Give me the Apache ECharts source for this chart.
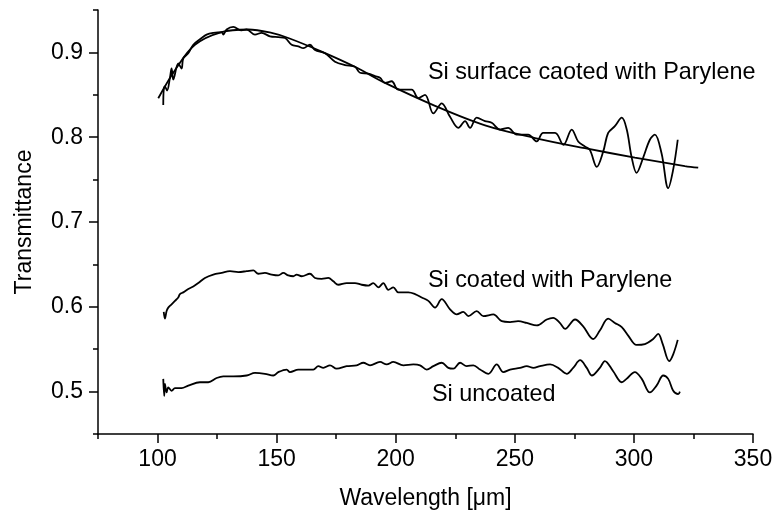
<!DOCTYPE html>
<html>
<head>
<meta charset="utf-8">
<script src="https://cdn.jsdelivr.net/npm/echarts@6/dist/echarts.min.js"></script>
<style>
  html, body { margin: 0; padding: 0; background: #fff; }
  #container { width: 779px; height: 515px; }
</style>
</head>
<body>
<div id="container"></div>
<script>
var dom = document.getElementById("container");
var myChart = echarts.init(dom);

// tick values
var xMajorTicks = [100, 150, 200, 250, 300, 350];
var xMinorTicks = [75, 125, 175, 225, 275, 325];
var yMajorTicks = [0.5, 0.6, 0.7, 0.8, 0.9];
var yMinorTicks = [0.45, 0.55, 0.65, 0.75, 0.85, 0.95];

// smooth fit of the parylene surface coated sample
var surfaceFit = [[100.3,0.846],[107.3,0.879],[115.7,0.909],[126.9,0.924],[138.1,0.927],[147.9,0.923],
  [154.9,0.917],[168.9,0.901],[182.9,0.883],[195.5,0.864],[216.5,0.837],[237.5,0.814],[258.5,0.799],
  [279.4,0.787],[300.4,0.776],[321.4,0.766],[327,0.764]];

// measured: Si surface coated with parylene
var surfaceCoated = [[102.4,0.838],[102.6,0.856],[103.1,0.860],[104.0,0.855],[105.2,0.870],[105.9,0.881],
  [106.6,0.868],[108.7,0.887],[110.1,0.881],[110.8,0.893],[112.9,0.899],[115.0,0.909],[118.5,0.917],
  [120.6,0.921],[123.4,0.923],[126.9,0.924],[127.6,0.921],[129.0,0.927],[131.8,0.930],[135.3,0.926],
  [137.4,0.927],[140.9,0.921],[143.7,0.923],[147.2,0.919],[150.7,0.918],[153.5,0.917],[156.3,0.909],
  [159.1,0.907],[161.2,0.905],[164.0,0.909],[166.1,0.903],[170.3,0.899],[174.5,0.889],[178.7,0.885],
  [182.9,0.883],[185.0,0.876],[188.5,0.875],[191.3,0.872],[193.4,0.870],[195.5,0.864],[198.3,0.866],
  [201.1,0.856],[206.7,0.856],[209.5,0.846],[212.3,0.850],[215.8,0.828],[219.3,0.840],[222.8,0.824],
  [226.3,0.811],[229.1,0.819],[231.2,0.811],[234.0,0.823],[237.5,0.819],[240.3,0.817],[243.8,0.809],
  [247.2,0.811],[250.8,0.803],[255.6,0.803],[259.2,0.795],[261.9,0.805],[266.9,0.805],[270.4,0.791],
  [273.9,0.809],[276.6,0.795],[279.4,0.789],[281.5,0.785],[284.4,0.765],[287.1,0.783],[289.2,0.805],
  [292.0,0.813],[294.9,0.823],[297.0,0.809],[299.0,0.777],[301.1,0.758],[303.9,0.776],[306.7,0.797],
  [308.8,0.803],[311.6,0.781],[314.4,0.740],[316.5,0.762],[318.4,0.797]];

// measured: Si coated with parylene
var siCoated = [[102.6,0.594],[103.1,0.586],[103.8,0.595],[104.5,0.599],[105.9,0.603],[107.3,0.607],
  [108.7,0.611],[109.4,0.615],[110.8,0.617],[112.9,0.621],[115.0,0.624],[117.1,0.628],[119.9,0.634],
  [123.4,0.638],[126.9,0.640],[130.4,0.642],[133.9,0.641],[137.4,0.642],[140.2,0.643],[142.3,0.639],
  [145.1,0.640],[147.9,0.638],[150.7,0.637],[152.8,0.640],[154.9,0.637],[157.0,0.636],[158.4,0.638],
  [160.5,0.636],[164.0,0.639],[166.1,0.634],[168.9,0.633],[171.7,0.634],[173.8,0.630],[175.9,0.626],
  [179.4,0.628],[182.9,0.628],[185.7,0.626],[188.5,0.625],[190.6,0.628],[192.7,0.623],[194.8,0.628],
  [196.9,0.620],[199.0,0.623],[201.1,0.617],[205.3,0.617],[208.1,0.615],[210.9,0.611],[213.7,0.607],
  [216.5,0.599],[219.3,0.609],[222.8,0.597],[225.6,0.591],[228.4,0.594],[230.5,0.589],[234.0,0.595],
  [236.8,0.589],[241.0,0.591],[244.5,0.583],[248.0,0.582],[251.4,0.583],[255.0,0.581],[259.2,0.578],
  [263.4,0.585],[266.1,0.587],[268.9,0.581],[271.1,0.574],[275.3,0.585],[278.7,0.577],[282.9,0.562],
  [285.7,0.572],[289.2,0.586],[292.0,0.581],[294.9,0.576],[297.6,0.566],[301.1,0.555],[304.6,0.556],
  [308.1,0.562],[310.2,0.568],[312.1,0.556],[314.8,0.536],[316.5,0.544],[318.4,0.561]];

// measured: Si uncoated
var siUncoated = [[102.4,0.515],[102.8,0.495],[103.1,0.509],[103.8,0.499],[104.5,0.505],[105.9,0.501],
  [107.3,0.504],[110.1,0.504],[112.9,0.507],[117.8,0.511],[121.3,0.511],[124.8,0.516],[127.6,0.518],
  [131.8,0.518],[137.4,0.519],[140.9,0.522],[145.1,0.521],[148.6,0.519],[150.7,0.523],[154.2,0.526],
  [155.6,0.523],[159.1,0.526],[162.6,0.526],[165.4,0.526],[167.5,0.530],[169.6,0.528],[172.4,0.531],
  [175.2,0.527],[179.4,0.530],[183.6,0.531],[186.4,0.534],[189.2,0.531],[193.4,0.535],[196.2,0.532],
  [199.0,0.535],[203.2,0.531],[207.4,0.532],[210.2,0.531],[213.0,0.526],[215.8,0.530],[219.3,0.534],
  [222.1,0.528],[224.2,0.527],[227.0,0.534],[229.8,0.530],[232.6,0.531],[235.4,0.526],[238.9,0.521],
  [242.4,0.532],[245.2,0.523],[248.0,0.526],[252.2,0.528],[255.0,0.530],[257.8,0.528],[260.6,0.530],
  [264.8,0.532],[268.2,0.528],[271.8,0.521],[274.5,0.528],[277.4,0.537],[280.2,0.528],[282.3,0.519],
  [285.7,0.528],[287.8,0.536],[291.3,0.524],[294.9,0.511],[296.9,0.515],[300.4,0.523],[303.3,0.515],
  [306.7,0.499],[309.5,0.507],[312.3,0.519],[314.4,0.515],[316.5,0.501],[318.6,0.497],[319.3,0.500]];

// curve labels, anchored at their left edge
var labelTexts = ['Si surface caoted with Parylene', 'Si coated with Parylene', 'Si uncoated'];
var labelX = [213.5, 213.5, 215.2];
var labelY = [0.876, 0.631, 0.497];

var font = "'Liberation Sans', Arial, sans-serif";
var fontSize = 23;

function lineSeries(name, data) {
  return {
    type: 'line',
    name: name,
    data: data,
    showSymbol: false,
    smooth: 0.35,
    lineStyle: { color: '#000', width: 1.8 },
    z: 3
  };
}

var labelData = labelTexts.map(function (t, i) {
  return { value: [labelX[i], labelY[i]], name: t };
});

var axisLine = { show: true, lineStyle: { color: '#000', width: 1.5 } };

option = {
  animation: false,
  backgroundColor: '#fff',
  grid: { left: 98, right: 26, top: 10, bottom: 80, containLabel: false },
  xAxis: [{
    type: 'value',
    min: 75,
    max: 350,
    position: 'bottom',
    name: 'Wavelength [\u03bcm]',
    nameLocation: 'middle',
    nameGap: 53,
    nameTextStyle: { color: '#000', fontSize: fontSize, fontFamily: font },
    axisLine: axisLine,
    axisTick: { show: true, customValues: xMajorTicks, length: 9, lineStyle: { color: '#000', width: 1.5 } },
    axisLabel: { customValues: xMajorTicks, color: '#000', fontSize: fontSize, fontFamily: font, margin: 14 },
    splitLine: { show: false }
  }, {
    type: 'value',
    min: 75,
    max: 350,
    position: 'bottom',
    axisLine: { show: false },
    axisTick: { show: true, customValues: xMinorTicks, length: 5, lineStyle: { color: '#000', width: 1.5 } },
    axisLabel: { show: false },
    splitLine: { show: false }
  }],
  yAxis: [{
    type: 'value',
    min: 0.45,
    max: 0.95,
    position: 'left',
    name: 'Transmittance',
    nameLocation: 'middle',
    nameGap: 62,
    nameTextStyle: { color: '#000', fontSize: fontSize, fontFamily: font },
    axisLine: axisLine,
    axisTick: { show: true, customValues: yMajorTicks, length: 9, lineStyle: { color: '#000', width: 1.5 } },
    axisLabel: { customValues: yMajorTicks, color: '#000', fontSize: fontSize, fontFamily: font, margin: 15,
      formatter: function (v) { return v.toFixed(1); } },
    splitLine: { show: false }
  }, {
    type: 'value',
    min: 0.45,
    max: 0.95,
    position: 'left',
    axisLine: { show: false },
    axisTick: { show: true, customValues: yMinorTicks, length: 5, lineStyle: { color: '#000', width: 1.5 } },
    axisLabel: { show: false },
    splitLine: { show: false }
  }],
  series: [
    lineSeries('fit', surfaceFit),
    lineSeries('Si surface caoted with Parylene', surfaceCoated),
    lineSeries('Si coated with Parylene', siCoated),
    lineSeries('Si uncoated', siUncoated),
    {
      type: 'scatter',
      name: 'labels',
      data: labelData,
      symbolSize: 0,
      silent: true,
      itemStyle: { opacity: 1 },
      label: {
        show: true,
        position: 'right',
        distance: 0,
        formatter: '{b}',
        color: '#000',
        opacity: 1,
        textBorderWidth: 0,
        fontSize: 23.4,
        fontFamily: font
      },
      z: 5
    }
  ]
};

if (option && typeof option === "object") {
  myChart.setOption(option, true);
}
</script>
</body>
</html>
